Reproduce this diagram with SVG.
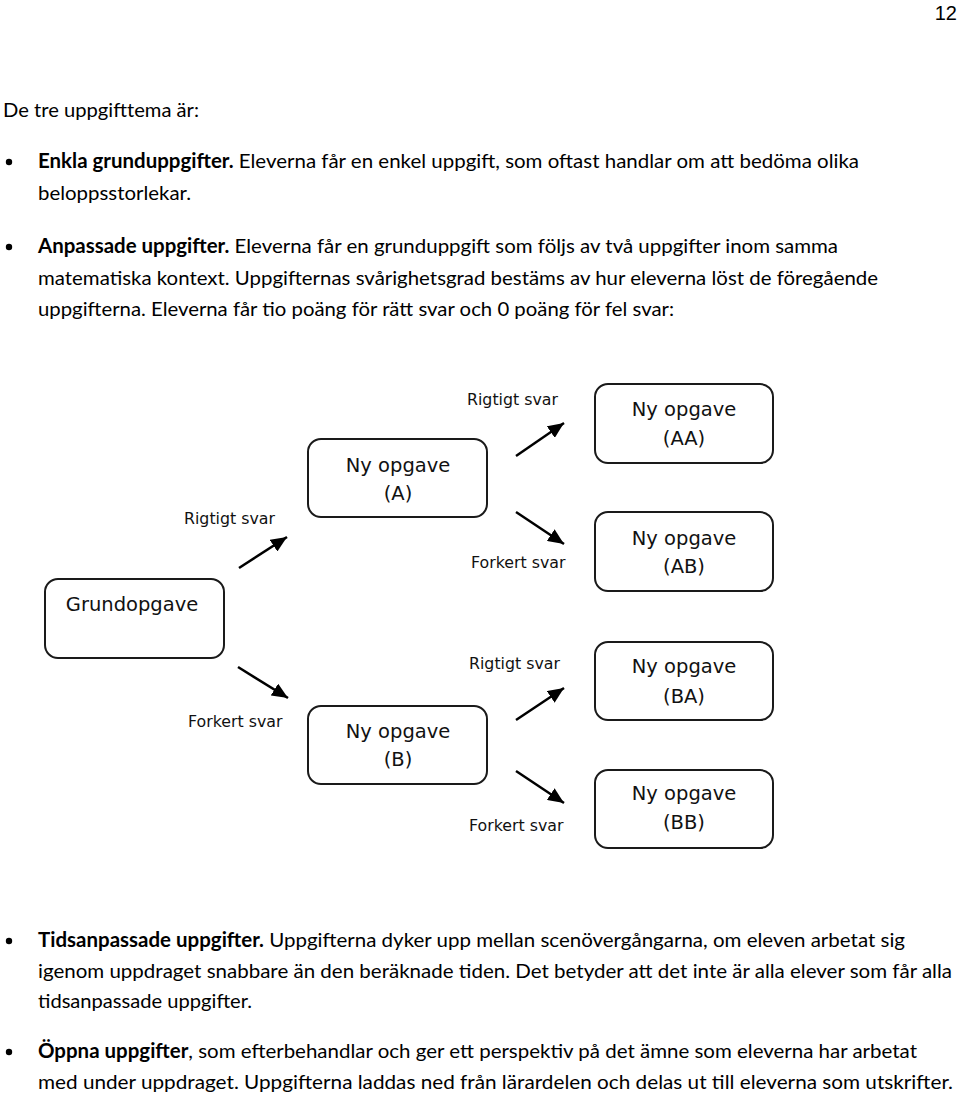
<svg xmlns="http://www.w3.org/2000/svg" width="960" height="1097" viewBox="0 0 960 1097">
<style>
.body{font-family:Lato,"Open Sans","Liberation Sans",sans-serif;font-size:20px;fill:#000}
.b{font-weight:bold}
.box{fill:#fff;stroke:#1a1a1a;stroke-width:2}
.bt{font-family:"DejaVu Sans",Verdana,sans-serif;font-size:19.5px;fill:#111;text-anchor:middle}
.lbl{font-family:"DejaVu Sans",Verdana,sans-serif;font-size:15.8px;fill:#111}
.arr{stroke:#000;stroke-width:2.5;fill:none;marker-end:url(#ah)}
.pg{font-family:"Liberation Sans",Arial,sans-serif;font-size:20px;fill:#000;text-anchor:end}
</style>
<defs>
<marker id="ah" markerUnits="userSpaceOnUse" markerWidth="18" markerHeight="14" refX="16" refY="7" orient="auto">
<path d="M0,0 L16,7 L0,14 Z" fill="#000"/>
</marker>
</defs>
<rect width="960" height="1097" fill="#fff"/>
<text class="pg" x="957" y="20">12</text>

<g id="text-top">
<text class="body" x="3" y="117" textLength="196" lengthAdjust="spacingAndGlyphs">De tre uppgifttema är:</text>
<circle cx="9" cy="162" r="3.2" fill="#000"/>
<text class="body" x="38" y="168" textLength="821" lengthAdjust="spacingAndGlyphs"><tspan class="b">Enkla grunduppgifter.</tspan> Eleverna får en enkel uppgift, som oftast handlar om att bedöma olika</text>
<text class="body" x="38" y="200" textLength="153" lengthAdjust="spacingAndGlyphs">beloppsstorlekar.</text>
<circle cx="9" cy="247" r="3.2" fill="#000"/>
<text class="body" x="38" y="253" textLength="800" lengthAdjust="spacingAndGlyphs"><tspan class="b">Anpassade uppgifter.</tspan> Eleverna får en grunduppgift som följs av två uppgifter inom samma</text>
<text class="body" x="38" y="285" textLength="840" lengthAdjust="spacingAndGlyphs">matematiska kontext. Uppgifternas svårighetsgrad bestäms av hur eleverna löst de föregående</text>
<text class="body" x="38" y="316" textLength="636" lengthAdjust="spacingAndGlyphs">uppgifterna. Eleverna får tio poäng för rätt svar och 0 poäng för fel svar:</text>
</g>

<g id="connectors">
<line class="arr" x1="239" y1="568" x2="287" y2="537"/>
<line class="arr" x1="238" y1="667" x2="288" y2="698"/>
<line class="arr" x1="516" y1="456" x2="564" y2="423"/>
<line class="arr" x1="516" y1="512" x2="564" y2="544"/>
<line class="arr" x1="516" y1="720" x2="564" y2="688"/>
<line class="arr" x1="516" y1="771" x2="564" y2="803"/>
<text class="lbl" x="184" y="524">Rigtigt svar</text>
<text class="lbl" x="188" y="727">Forkert svar</text>
<text class="lbl" x="467" y="405">Rigtigt svar</text>
<text class="lbl" x="471" y="568">Forkert svar</text>
<text class="lbl" x="469" y="669">Rigtigt svar</text>
<text class="lbl" x="469" y="831">Forkert svar</text>
</g>

<g id="grundopgave">
<rect class="box" x="45" y="579" width="179" height="79" rx="13"/>
<text class="bt" x="132" y="611">Grundopgave</text>
</g>
<g id="opgave-a">
<rect class="box" x="308" y="439" width="179" height="78" rx="13"/>
<text class="bt" x="398" y="472">Ny opgave</text>
<text class="bt" x="398" y="500">(A)</text>
</g>
<g id="opgave-b">
<rect class="box" x="308" y="706" width="179" height="78" rx="13"/>
<text class="bt" x="398" y="738">Ny opgave</text>
<text class="bt" x="398" y="766">(B)</text>
</g>
<g id="opgave-aa">
<rect class="box" x="595" y="384" width="178" height="79" rx="13"/>
<text class="bt" x="684" y="416">Ny opgave</text>
<text class="bt" x="684" y="445">(AA)</text>
</g>
<g id="opgave-ab">
<rect class="box" x="595" y="512" width="178" height="79" rx="13"/>
<text class="bt" x="684" y="545">Ny opgave</text>
<text class="bt" x="684" y="573">(AB)</text>
</g>
<g id="opgave-ba">
<rect class="box" x="595" y="642" width="178" height="78" rx="13"/>
<text class="bt" x="684" y="673">Ny opgave</text>
<text class="bt" x="684" y="703">(BA)</text>
</g>
<g id="opgave-bb">
<rect class="box" x="595" y="770" width="178" height="78" rx="13"/>
<text class="bt" x="684" y="800">Ny opgave</text>
<text class="bt" x="684" y="829">(BB)</text>
</g>

<g id="text-bottom">
<circle cx="9" cy="941" r="3.2" fill="#000"/>
<text class="body" x="38" y="947" textLength="867" lengthAdjust="spacingAndGlyphs"><tspan class="b">Tidsanpassade uppgifter.</tspan> Uppgifterna dyker upp mellan scenövergångarna, om eleven arbetat sig</text>
<text class="body" x="38" y="978" textLength="914" lengthAdjust="spacingAndGlyphs">igenom uppdraget snabbare än den beräknade tiden. Det betyder att det inte är alla elever som får alla</text>
<text class="body" x="38" y="1008" textLength="214" lengthAdjust="spacingAndGlyphs">tidsanpassade uppgifter.</text>
<circle cx="9" cy="1052" r="3.2" fill="#000"/>
<text class="body" x="38" y="1058" textLength="879" lengthAdjust="spacingAndGlyphs"><tspan class="b">Öppna uppgifter</tspan>, som efterbehandlar och ger ett perspektiv på det ämne som eleverna har arbetat</text>
<text class="body" x="38" y="1089" textLength="915" lengthAdjust="spacingAndGlyphs">med under uppdraget. Uppgifterna laddas ned från lärardelen och delas ut till eleverna som utskrifter.</text>
</g>
</svg>
